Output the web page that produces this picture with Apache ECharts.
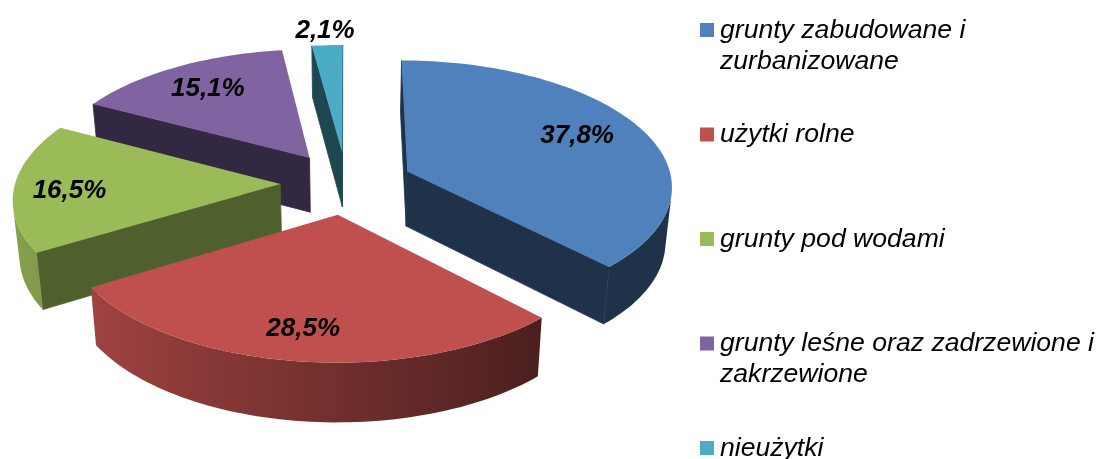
<!DOCTYPE html>
<html>
<head>
<meta charset="utf-8">
<style>
  html, body { margin: 0; padding: 0; background: #fff; }
  #main { width: 1097px; height: 459px; }
</style>
</head>
<body>
<div id="main"></div>
<script src="https://cdn.jsdelivr.net/npm/echarts@6/dist/echarts.min.js"></script>
<script>
// dane
const categories = [
  "grunty zabudowane i\nzurbanizowane",
  "użytki rolne",
  "grunty pod wodami",
  "grunty leśne oraz zadrzewione i\nzakrzewione",
  "nieużytki"
];
const values = [37.8, 28.5, 16.5, 15.1, 2.1];
const colors = ["#4F81BD", "#C0504D", "#9BBB59", "#8064A2", "#4BACC6"];
const wallShade = [0.39, 0.4, 0.51, 0.4, 0.41]; // sciany boczne (ciemniejsze)
const labelRadius = [0.72, 0.78, 0.8, 0.74, 1.16];
const labelNudge = [[1, -4], [-4, 3], [2, 4], [-1, -1], [0, 1]];
const paintOrder = [4, 3, 0, 2, 1]; // kolejnosc rysowania, tyl -> przod

// rzut 3D: srodek, promienie, wysokosc, perspektywa
const view = { cx: 346.5, cy: 183, rx: 265, ry: 125, depth: 55, persp: 0.1055, shrink: 0.98, explode: 0.25 };
const FONT = '"Liberation Sans", Arial, sans-serif';

function project(u, v, h) {
  const s = 1 / (1 - view.persp * v);
  const f = h ? view.shrink : 1;
  return [
    view.cx + view.rx * u * s * f,
    view.cy + view.ry * v * s * f + (h ? view.depth * s : 0)
  ];
}

function shade(hex, f) {
  const n = parseInt(hex.slice(1), 16);
  const c = [n >> 16, (n >> 8) & 255, n & 255].map(x => Math.round(x * f));
  return "rgb(" + c.join(",") + ")";
}

// pole ze znakiem; < 0 => sciana zwrocona do widza
function area(p) {
  let a = 0;
  for (let i = 0; i < p.length; i++) {
    const q = p[(i + 1) % p.length];
    a += p[i][0] * q[1] - q[0] * p[i][1];
  }
  return a;
}

const total = values.reduce((a, b) => a + b, 0);

function renderSlice(params, api) {
  const i = params.dataIndex;
  const value = api.value(0);
  let before = 0;
  for (let k = 0; k < i; k++) before += values[k];
  const t0 = before / total * 2 * Math.PI;
  const t1 = (before + value) / total * 2 * Math.PI;
  const mid = (t0 + t1) / 2;
  const ou = view.explode * Math.sin(mid);
  const ov = -view.explode * Math.cos(mid);
  const rim = (t, h) => project(ou + Math.sin(t), ov - Math.cos(t), h);
  const apex = h => project(ou, ov, h);
  const base = paintOrder.indexOf(i) * 10;
  const children = [];

  // sciany promieniowe
  const walls = [
    [apex(0), rim(t0, 0), rim(t0, 1), apex(1)],
    [rim(t1, 0), apex(0), apex(1), rim(t1, 1)]
  ];
  walls.forEach(w => {
    if (area(w) < 0) {
      const fill = shade(colors[i], wallShade[i]);
      children.push({
        type: "polygon",
        z2: base + 1,
        shape: { points: w },
        style: { fill: fill, stroke: fill, lineWidth: 0.8 }
      });
    }
  });

  // sciana zewnetrzna: tylko widoczny fragment, gradient w poziomie
  const steps = Math.max(2, Math.ceil((t1 - t0) / (Math.PI / 120)));
  const upper = [];
  const lower = [];
  const samples = [];
  for (let k = 0; k < steps; k++) {
    const a = t0 + (t1 - t0) * k / steps;
    const b = t0 + (t1 - t0) * (k + 1) / steps;
    if (area([rim(a, 0), rim(b, 0), rim(b, 1), rim(a, 1)]) < 0) {
      if (!upper.length) {
        upper.push(rim(a, 0));
        lower.push(rim(a, 1));
        samples.push(a);
      }
      upper.push(rim(b, 0));
      lower.push(rim(b, 1));
      samples.push(b);
    }
  }
  if (upper.length > 1) {
    const xs = samples.map(t => rim(t, 0)[0]);
    const minX = Math.min.apply(null, xs);
    const maxX = Math.max.apply(null, xs);
    const stops = samples.map((t, k) => ({
      offset: (xs[k] - minX) / (maxX - minX || 1),
      color: shade(colors[i], Math.max(0.39, 0.587 - 0.286 * Math.sin(t)))
    })).sort((p, q) => p.offset - q.offset);
    children.push({
      type: "polygon",
      z2: base + (i === 0 ? 0 : 2), // u niebieskiego sciana promieniowa zakrywa szew
      shape: { points: upper.concat(lower.reverse()) },
      style: {
        fill: { type: "linear", x: minX, y: 0, x2: maxX, y2: 0, global: true, colorStops: stops }
      }
    });
  }

  // wierzch
  const top = [apex(0)];
  for (let k = 0; k <= steps; k++) top.push(rim(t0 + (t1 - t0) * k / steps, 0));
  children.push({
    type: "polygon",
    z2: base + 3,
    shape: { points: top },
    style: { fill: colors[i] }
  });

  // etykieta
  const lr = labelRadius[i];
  const lp = project(ou + lr * Math.sin(mid), ov - lr * Math.cos(mid), 0);
  children.push({
    type: "text",
    z2: 100,
    style: {
      x: lp[0] + labelNudge[i][0],
      y: lp[1] + labelNudge[i][1],
      text: value.toFixed(1).replace(".", ",") + "%",
      font: 'italic bold 26px ' + FONT,
      fill: "#000",
      align: "center",
      verticalAlign: "middle"
    }
  });

  return { type: "group", children: children };
}

// legenda
const legendX = 700;
const legendY = [30, 134.5, 239, 343.5, 448];
const legendItems = [];
categories.forEach((c, i) => {
  legendItems.push({
    type: "rect",
    shape: { x: legendX, y: legendY[i] - 7, width: 14, height: 14 },
    style: { fill: colors[i] }
  });
  legendItems.push({
    type: "text",
    style: {
      x: legendX + 20,
      y: legendY[i] - 15,
      text: c,
      font: 'italic 26.6px ' + FONT,
      lineHeight: 31,
      fill: "#000",
      verticalAlign: "top"
    }
  });
});

const chart = echarts.init(document.getElementById("main"));
chart.setOption({
  animation: false,
  backgroundColor: "#fff",
  graphic: { elements: legendItems },
  series: [
    {
      type: "custom",
      coordinateSystem: "none",
      renderItem: renderSlice,
      data: values.map((v, i) => ({ name: categories[i], value: [v] }))
    }
  ]
});
</script>
</body>
</html>
